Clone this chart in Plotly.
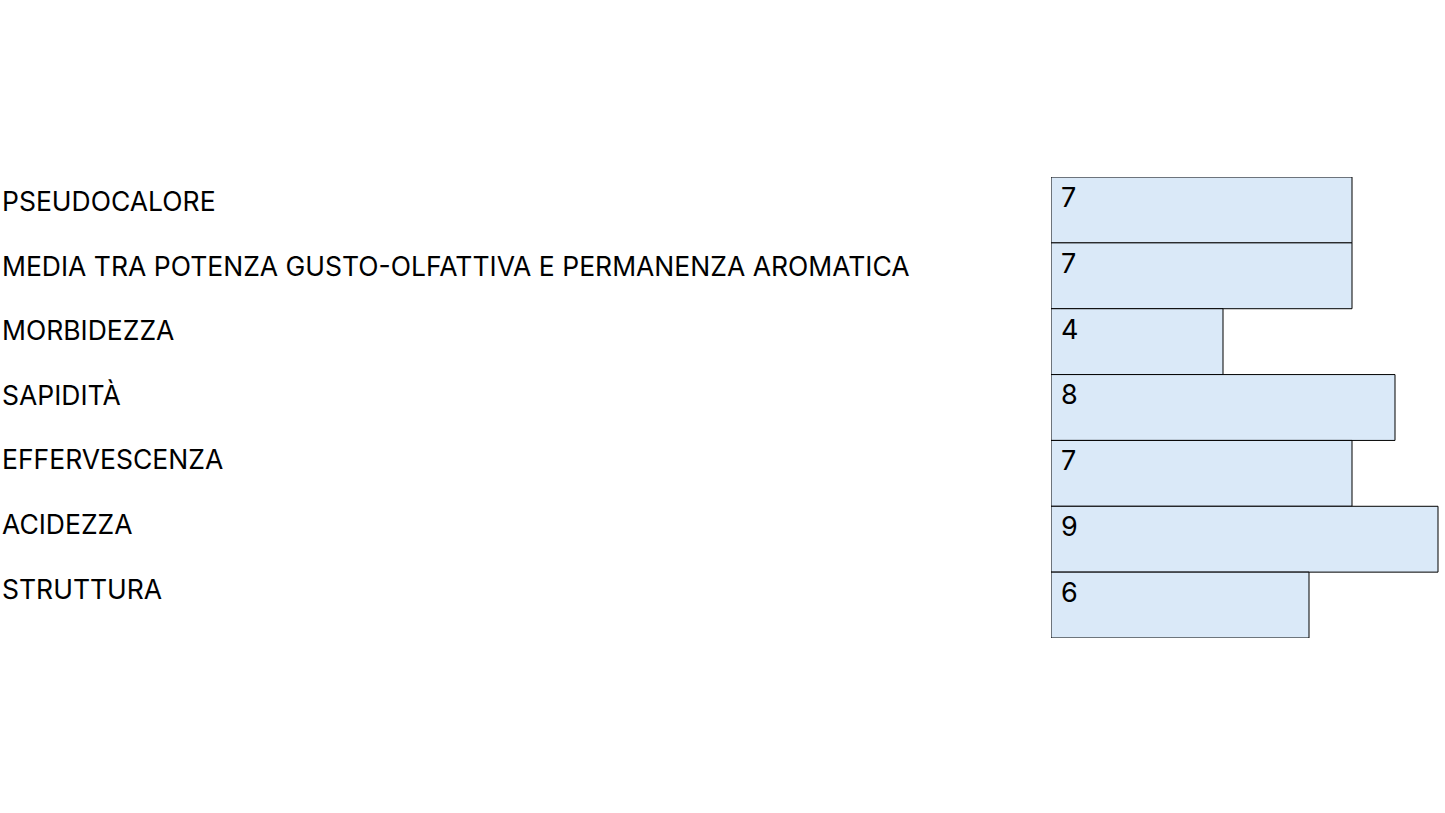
import plotly.graph_objects as go

categories = ['PSEUDOCALORE',
              'MEDIA TRA POTENZA GUSTO-OLFATTIVA E PERMANENZA AROMATICA',
              'MORBIDEZZA', 'SAPIDITÀ', 'EFFERVESCENZA', 'ACIDEZZA', 'STRUTTURA']
scores = [7, 7, 4, 8, 7, 9, 6]

W, H = 1445, 813
FONT = 'Inter, Lato, sans-serif'

rows = list(range(len(categories)))

fig = go.Figure(go.Bar(
    x=scores, y=rows, orientation='h', width=1,
    marker=dict(color='#DAE9F8', line=dict(color='#000000', width=1)),
    hoverinfo='skip'))

for r, (cat, val) in enumerate(zip(categories, scores)):
    # category labels live in their own, slightly tighter column of rows
    fig.add_annotation(x=0.0, xref='paper', y=-0.137 + r * 0.981, yref='y',
                       text=cat, showarrow=False, xanchor='left', yanchor='middle',
                       font=dict(family=FONT, size=26.5, color='#000000'))
    # value in the top-left corner of the bar
    fig.add_annotation(x=0.18, xref='x', y=r - 0.19, yref='y',
                       text=str(val), showarrow=False, xanchor='left', yanchor='middle',
                       font=dict(family=FONT, size=27, color='#000000'))

fig.update_xaxes(domain=[1051 / W, 1], range=[0, (W - 1051) / 43],
                 visible=False, showgrid=False, zeroline=False)
fig.update_yaxes(range=[len(categories) - 0.5, -0.5],
                 visible=False, showgrid=False, zeroline=False)
fig.update_layout(width=W, height=H, showlegend=False,
                  margin=dict(l=0, r=0, t=177, b=H - 638),
                  paper_bgcolor='white', plot_bgcolor='white')

# drop the default page margin so the figure sits at the window corner
fig.write_html('out.html', config={'displayModeBar': False},
               post_script="document.body.style.margin='0';")
